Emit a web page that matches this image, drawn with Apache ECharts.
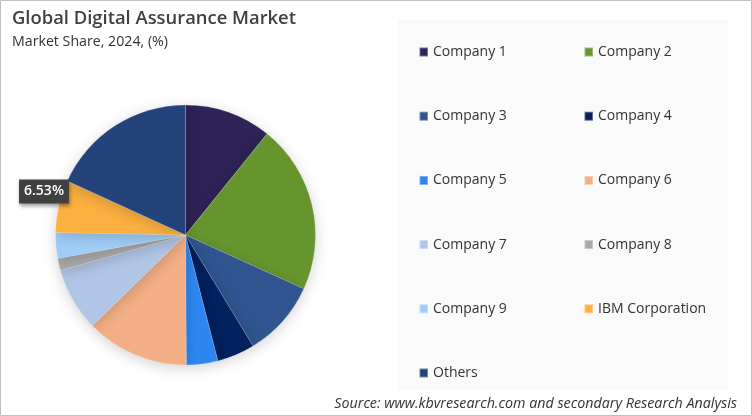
<!DOCTYPE html>
<html>
<head>
<meta charset="utf-8">
<style>
  html, body { margin: 0; padding: 0; background: #fff; }
  #chart { width: 752px; height: 416px; }
</style>
<script src="https://cdn.jsdelivr.net/npm/echarts@6/dist/echarts.min.js"></script>
</head>
<body>
<div id="chart"></div>
<script>
// values, only IBM is printed on it
const companies = ['Company 1', 'Company 2', 'Company 3', 'Company 4', 'Company 5', 'Company 6',
  'Company 7', 'Company 8', 'Company 9', 'IBM Corporation', 'Others'];
const shares = [10.8, 21.0, 9.5, 4.7, 3.9, 12.8, 7.9, 1.5, 3.2, 6.53, 18.17];
const colors = ['#2f2257', '#66952e', '#30548f', '#03205f', '#2d86f0', '#f2af85',
  '#b1c6e6', '#a9a9a9', '#9fcdf6', '#fbb040', '#24437a'];
const leftLegend = ['Company 1', 'Company 3', 'Company 5', 'Company 7', 'Company 9', 'Others'];
const rightLegend = ['Company 2', 'Company 4', 'Company 6', 'Company 8', 'IBM Corporation'];

const font = '"Open Sans", sans-serif';
const chart = echarts.init(document.getElementById('chart'), null, { renderer: 'canvas' });

function makeLegend(names, x) {
  return {
    data: names,
    orient: 'vertical',
    left: x,
    top: 45,
    icon: 'rect',
    itemWidth: 8.5,
    itemHeight: 9,
    itemGap: 50.2,
    padding: 0,
    selectedMode: false,
    textStyle: { fontFamily: font, fontSize: 14, color: '#333333' }
  };
}

chart.setOption({
  animation: false,
  backgroundColor: '#ffffff',
  title: [
    {
      text: 'Global Digital Assurance Market',
      left: 12, top: 10, padding: 0,
      textStyle: { fontFamily: font, fontSize: 18.4, fontWeight: 600, color: '#404040' }
    },
    {
      text: 'Market Share, 2024, (%)',
      left: 12, top: 35, padding: 0,
      textStyle: { fontFamily: font, fontSize: 14.2, fontWeight: 400, color: '#333333' }
    },
    {
      text: 'Source: www.kbvresearch.com and secondary Research Analysis',
      right: 15, top: 397, padding: 0,
      textStyle: { fontFamily: font, fontSize: 14.3, fontWeight: 400, fontStyle: 'italic', color: '#333333' }
    }
  ],
  legend: [makeLegend(leftLegend, 418.5), makeLegend(rightLegend, 583.5)],
  graphic: [
    // grey legend panel
    { type: 'rect', z: -1, shape: { x: 398, y: 20, width: 330, height: 370 }, style: { fill: '#fafafa' } },
    // picture frame
    { type: 'rect', z: 100, shape: { x: 0.5, y: 0.5, width: 751, height: 415 },
      style: { fill: 'none', stroke: '#bfbfbf', lineWidth: 1 } }
  ],
  series: [{
    type: 'pie',
    center: [185.5, 235],
    radius: [0, 130],
    startAngle: 90,
    clockwise: true,
    label: { show: false },
    labelLine: { show: false },
    // only the IBM slice has a label, it sits off the pie edge
    labelLayout: { x: 44, y: 191.5, align: 'center', verticalAlign: 'middle' },
    itemStyle: {
      borderColor: 'rgba(255,255,255,0.35)',
      borderWidth: 0.5,
      shadowColor: 'rgba(0,0,0,0.18)',
      shadowBlur: 14,
      shadowOffsetY: 3
    },
    emphasis: { disabled: true },
    data: companies.map((name, i) => {
      const item = { name: name, value: shares[i], itemStyle: { color: colors[i] } };
      if (name === 'IBM Corporation') {
        item.label = {
          show: true,
          position: 'inside',
          formatter: shares[i].toFixed(2) + '%',
          fontFamily: font,
          fontSize: 14,
          fontWeight: 600,
          color: '#ffffff',
          backgroundColor: '#404040',
          padding: [5, 5],
          shadowColor: 'rgba(0,0,0,0.4)',
          shadowBlur: 4,
          shadowOffsetX: 1,
          shadowOffsetY: 2
        };
      }
      return item;
    })
  }]
});
</script>
</body>
</html>
